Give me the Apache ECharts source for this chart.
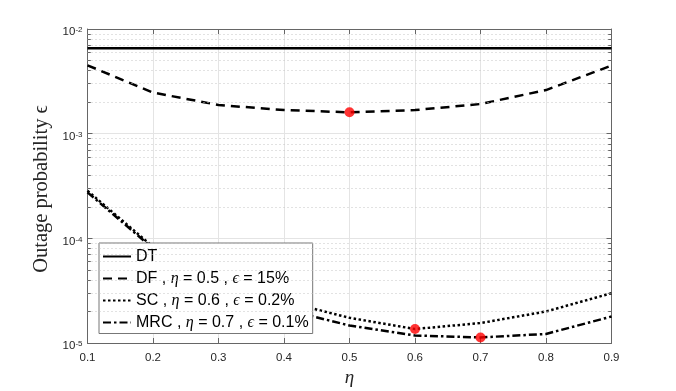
<!DOCTYPE html>
<html>
<head>
<meta charset="utf-8">
<script src="https://cdn.jsdelivr.net/npm/echarts@6/dist/echarts.min.js"></script>
<style>
  html, body { margin: 0; padding: 0; background: #fff; }
  #main { width: 676px; height: 391px; }
</style>
</head>
<body>
<div id="main"></div>
<script>
// values
const eta = [0.1, 0.2, 0.3, 0.4, 0.5, 0.6, 0.7, 0.8, 0.9];
const dt  = [6.54e-3, 6.54e-3, 6.54e-3, 6.54e-3, 6.54e-3, 6.54e-3, 6.54e-3, 6.54e-3, 6.54e-3];
const df  = [4.5e-3, 2.47e-3, 1.88e-3, 1.68e-3, 1.6e-3, 1.68e-3, 1.92e-3, 2.61e-3, 4.47e-3];
const sc  = [2.85e-4, 8.3e-5, 4.2e-5, 2.5e-5, 1.74e-5, 1.36e-5, 1.55e-5, 2.0e-5, 2.99e-5];
const mrc = [2.75e-4, 8.0e-5, 3.8e-5, 2.1e-5, 1.47e-5, 1.18e-5, 1.13e-5, 1.22e-5, 1.79e-5];

// optimum points (red dots)
const optEta = [0.5, 0.6, 0.7];
const optVal = [1.6e-3, 1.36e-5, 1.13e-5];

// legend text
const names   = ['DT', 'DF', 'SC', 'MRC'];
const legEta  = [null, '0.5', '0.6', '0.7'];
const legEps  = [null, '15%', '0.2%', '0.1%'];

// log axis: decades and minor steps
const decades = [-5, -4, -3];
const minorSteps = [2, 3, 4, 5, 6, 7, 8, 9];

const pairs = arr => eta.map((x, i) => [x, arr[i]]);

let chart = echarts.init(document.getElementById('main'));

const axisCol = '#666';
const gridCol = '#e4e4e4';

let minorVals = [];
for (let k of decades) {
    for (let m of minorSteps) minorVals.push(m * Math.pow(10, k));
}

function lineSeries(name, arr, dash) {
    return {
        name: name,
        type: 'line',
        data: pairs(arr),
        symbol: 'none',
        lineStyle: { color: '#000', width: 2.5, type: dash },
        itemStyle: { color: '#000' },
        z: 3
    };
}

let option = {
    animation: false,
    grid: { left: 87.5, right: 64.5, top: 29, bottom: 48, outerBoundsMode: 'none', containLabel: false },
    graphic: [{
        type: 'text',
        x: 42,
        y: 189,
        rotation: Math.PI / 2,
        style: {
            text: 'Outage probability ϵ',
            fontFamily: 'Liberation Serif',
            fontSize: 20.5,
            fill: '#262626',
            align: 'center',
            verticalAlign: 'middle'
        }
    }],
    legend: {
        data: names,
        orient: 'vertical',
        left: 99,
        top: 243,
        padding: [5.5, 4, 3, 3],
        itemGap: 6,
        itemWidth: 28,
        itemHeight: 14,
        backgroundColor: '#fff',
        borderColor: '#777',
        borderWidth: 1,
        selectedMode: false,
        itemStyle: { opacity: 0 },
        textStyle: {
            fontFamily: 'Liberation Sans',
            fontSize: 16,
            lineHeight: 15.7,
            color: '#000',
            rich: {
                g: { fontFamily: 'Liberation Serif', fontStyle: 'italic', fontSize: 16, lineHeight: 15.7, color: '#000' }
            }
        },
        formatter: function (n) {
            let i = names.indexOf(n);
            if (legEta[i] == null) return n;
            return n + ' , {g|η} = ' + legEta[i] + ' , {g|ϵ} = ' + legEps[i];
        }
    },
    xAxis: [{
        type: 'value',
        min: 0.1,
        max: 0.9,
        interval: 0.1,
        name: 'η',
        nameLocation: 'middle',
        nameGap: 23.5,
        nameTextStyle: { fontFamily: 'Liberation Serif', fontStyle: 'italic', fontSize: 19, color: '#262626' },
        axisLine: { lineStyle: { color: axisCol } },
        axisTick: { inside: true, length: 5, lineStyle: { color: axisCol } },
        axisLabel: {
            margin: 9,
            fontFamily: 'Liberation Sans',
            fontSize: 11.5,
            color: '#262626',
            formatter: v => v.toFixed(1)
        },
        splitLine: { show: true, lineStyle: { color: gridCol } }
    }, {
        type: 'value',
        position: 'top',
        min: 0.1,
        max: 0.9,
        interval: 0.1,
        axisLine: { show: true, lineStyle: { color: axisCol } },
        axisTick: { inside: true, length: 5, lineStyle: { color: axisCol } },
        axisLabel: { show: false },
        splitLine: { show: false }
    }],
    yAxis: [{
        type: 'log',
        logBase: 10,
        min: 1e-5,
        max: 1e-2,
        axisLine: { show: true, lineStyle: { color: axisCol } },
        axisTick: { inside: true, length: 5, lineStyle: { color: axisCol } },
        axisLabel: {
            margin: 5,
            color: '#262626',
            formatter: v => '{b|10}{s|' + Math.round(Math.log10(v)) + '}',
            rich: {
                b: { fontFamily: 'Liberation Sans', fontSize: 11.5, lineHeight: 11.5, padding: [6, 0, 0, 0], color: '#262626' },
                s: { fontFamily: 'Liberation Sans', fontSize: 8, lineHeight: 8, padding: [3, 0, 0, 0], verticalAlign: 'top', color: '#262626' }
            }
        },
        splitLine: { show: true, lineStyle: { color: gridCol } }
    }, {
        type: 'log',
        logBase: 10,
        min: 1e-5,
        max: 1e-2,
        position: 'right',
        axisLine: { show: true, lineStyle: { color: axisCol } },
        axisTick: { inside: true, length: 5, lineStyle: { color: axisCol } },
        axisLabel: { show: false },
        splitLine: { show: false }
    }],
    series: [
        {
            // minor grid (dotted) and minor ticks on both sides
            name: 'minor',
            type: 'line',
            data: [],
            silent: true,
            z: 1,
            markLine: {
                silent: true,
                symbol: 'none',
                label: { show: false },
                animation: false,
                data: minorVals.map(v => [
                    { coord: [0.1, v], lineStyle: { color: '#c4c4c4', width: 1, type: [1, 3] } },
                    { coord: [0.9, v] }
                ]).concat(minorVals.map(v => [
                    { coord: [0.1, v], lineStyle: { color: axisCol, width: 1, type: 'solid' } },
                    { coord: [0.105, v] }
                ])).concat(minorVals.map(v => [
                    { coord: [0.895, v], lineStyle: { color: axisCol, width: 1, type: 'solid' } },
                    { coord: [0.9, v] }
                ]))
            }
        },
        lineSeries('DT', dt, 'solid'),
        lineSeries('DF', df, [9, 6]),
        lineSeries('SC', sc, [2.5, 2.5]),
        lineSeries('MRC', mrc, [8, 3, 2.5, 3]),
        {
            name: 'opt',
            type: 'scatter',
            data: optEta.map((x, i) => [x, optVal[i]]),
            symbolSize: 10,
            itemStyle: { color: '#ff0000' },
            z: 4
        }
    ]
};

option && chart.setOption(option);
</script>
</body>
</html>
